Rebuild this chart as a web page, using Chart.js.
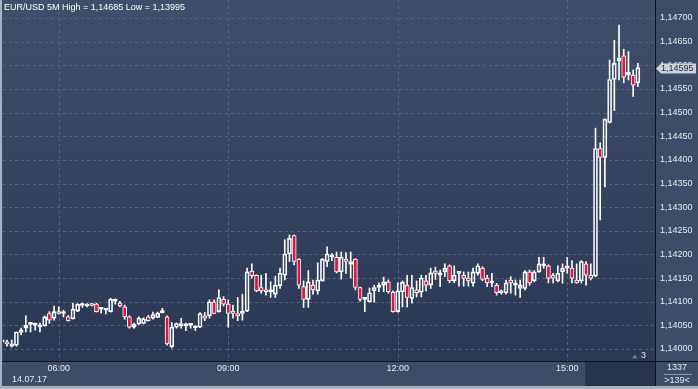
<!DOCTYPE html>
<html>
<head>
<meta charset="utf-8">
<title>EUR/USD 5M</title>
<script src="https://cdn.jsdelivr.net/npm/chart.js@4.4.1/dist/chart.umd.min.js"></script>
<style>
  html, body { margin: 0; padding: 0; background: #3d4c69; }
  canvas { display: block; }
</style>
</head>
<body>
<canvas id="candleChart" width="698" height="389"></canvas>
<script>
// --- EUR/USD 5 minute bars, 14.07.17 (05:00 .. 16:15) ---
const opens = [
    1.14015, 1.14015, 1.14006, 1.14008, 1.14035, 1.14044, 1.14052, 1.14050, 1.14047, 1.14049,
    1.14075, 1.14065, 1.14078, 1.14075, 1.14068, 1.14064, 1.14080, 1.14092, 1.14091, 1.14095,
    1.14095, 1.14084, 1.14082, 1.14079, 1.14101, 1.14097, 1.14089, 1.14068, 1.14046, 1.14053,
    1.14054, 1.14068, 1.14065, 1.14067, 1.14077, 1.14068, 1.14005, 1.14046, 1.14049, 1.14049,
    1.14050, 1.14045, 1.14046, 1.14070, 1.14070, 1.14100, 1.14079, 1.14105, 1.14095, 1.14080,
    1.14075, 1.14075, 1.14080, 1.14165, 1.14156, 1.14130, 1.14125, 1.14121, 1.14116, 1.14134,
    1.14156, 1.14201, 1.14240, 1.14190, 1.14132, 1.14105, 1.14135, 1.14123, 1.14144, 1.14185,
    1.14195, 1.14194, 1.14163, 1.14190, 1.14179, 1.14190, 1.14130, 1.14105, 1.14100, 1.14123,
    1.14130, 1.14135, 1.14142, 1.14120, 1.14079, 1.14121, 1.14135, 1.14107, 1.14125, 1.14120,
    1.14144, 1.14135, 1.14165, 1.14156, 1.14163, 1.14176, 1.14144, 1.14160, 1.14156, 1.14150,
    1.14139, 1.14160, 1.14171, 1.14150, 1.14140, 1.14135, 1.14119, 1.14119, 1.14146, 1.14135,
    1.14128, 1.14128, 1.14163, 1.14144, 1.14163, 1.14176, 1.14176, 1.14156, 1.14144, 1.14163,
    1.14171, 1.14171, 1.14146, 1.14144, 1.14180, 1.14156, 1.14154, 1.14424, 1.14405, 1.14479,
    1.14570, 1.14610, 1.14620, 1.14579, 1.14579, 1.14563
];
const highs = [
    1.14017, 1.14019, 1.14019, 1.14036, 1.14044, 1.14070, 1.14056, 1.14055, 1.14055, 1.14070,
    1.14079, 1.14091, 1.14089, 1.14082, 1.14071, 1.14097, 1.14096, 1.14097, 1.14096, 1.14096,
    1.14097, 1.14087, 1.14085, 1.14107, 1.14106, 1.14101, 1.14093, 1.14070, 1.14055, 1.14068,
    1.14066, 1.14071, 1.14078, 1.14078, 1.14086, 1.14070, 1.14056, 1.14055, 1.14065, 1.14055,
    1.14054, 1.14049, 1.14077, 1.14077, 1.14104, 1.14104, 1.14125, 1.14111, 1.14104, 1.14093,
    1.14109, 1.14116, 1.14171, 1.14180, 1.14157, 1.14156, 1.14160, 1.14142, 1.14154, 1.14171,
    1.14231, 1.14241, 1.14241, 1.14191, 1.14144, 1.14166, 1.14146, 1.14182, 1.14191, 1.14216,
    1.14202, 1.14205, 1.14205, 1.14204, 1.14205, 1.14191, 1.14131, 1.14109, 1.14129, 1.14135,
    1.14140, 1.14152, 1.14146, 1.14123, 1.14140, 1.14144, 1.14156, 1.14156, 1.14144, 1.14156,
    1.14156, 1.14171, 1.14173, 1.14167, 1.14180, 1.14178, 1.14176, 1.14161, 1.14163, 1.14163,
    1.14171, 1.14180, 1.14174, 1.14156, 1.14160, 1.14139, 1.14125, 1.14146, 1.14153, 1.14146,
    1.14146, 1.14166, 1.14167, 1.14166, 1.14194, 1.14194, 1.14178, 1.14160, 1.14176, 1.14180,
    1.14194, 1.14187, 1.14180, 1.14187, 1.14185, 1.14180, 1.14467, 1.14436, 1.14487, 1.14611,
    1.14653, 1.14685, 1.14634, 1.14629, 1.14590, 1.14604
];
const lows = [
    1.14013, 1.14006, 1.14004, 1.14006, 1.14030, 1.14036, 1.14036, 1.14040, 1.14036, 1.14048,
    1.14054, 1.14061, 1.14074, 1.14068, 1.14059, 1.14063, 1.14079, 1.14088, 1.14089, 1.14091,
    1.14078, 1.14076, 1.14074, 1.14078, 1.14095, 1.14089, 1.14063, 1.14044, 1.14044, 1.14051,
    1.14053, 1.14059, 1.14063, 1.14066, 1.14076, 1.14008, 1.14002, 1.14044, 1.14044, 1.14039,
    1.14044, 1.14039, 1.14045, 1.14060, 1.14065, 1.14074, 1.14078, 1.14091, 1.14046, 1.14065,
    1.14060, 1.14061, 1.14079, 1.14150, 1.14121, 1.14118, 1.14114, 1.14109, 1.14109, 1.14128,
    1.14146, 1.14185, 1.14178, 1.14128, 1.14088, 1.14088, 1.14116, 1.14116, 1.14143, 1.14174,
    1.14187, 1.14161, 1.14148, 1.14160, 1.14150, 1.14125, 1.14101, 1.14079, 1.14099, 1.14099,
    1.14121, 1.14121, 1.14118, 1.14078, 1.14078, 1.14089, 1.14089, 1.14097, 1.14110, 1.14110,
    1.14123, 1.14128, 1.14147, 1.14132, 1.14153, 1.14140, 1.14140, 1.14133, 1.14133, 1.14133,
    1.14133, 1.14156, 1.14144, 1.14132, 1.14132, 1.14114, 1.14116, 1.14116, 1.14118, 1.14114,
    1.14109, 1.14125, 1.14135, 1.14142, 1.14162, 1.14171, 1.14140, 1.14140, 1.14142, 1.14139,
    1.14160, 1.14140, 1.14139, 1.14139, 1.14135, 1.14146, 1.14153, 1.14273, 1.14343, 1.14478,
    1.14504, 1.14569, 1.14563, 1.14569, 1.14534, 1.14555
];
const closes = [
    1.14015, 1.14011, 1.14011, 1.14036, 1.14040, 1.14050, 1.14053, 1.14051, 1.14048, 1.14068,
    1.14061, 1.14079, 1.14075, 1.14076, 1.14060, 1.14084, 1.14095, 1.14093, 1.14095, 1.14092,
    1.14079, 1.14085, 1.14083, 1.14105, 1.14102, 1.14091, 1.14068, 1.14046, 1.14052, 1.14065,
    1.14064, 1.14060, 1.14073, 1.14076, 1.14078, 1.14011, 1.14046, 1.14054, 1.14054, 1.14050,
    1.14051, 1.14046, 1.14075, 1.14065, 1.14100, 1.14075, 1.14109, 1.14095, 1.14075, 1.14075,
    1.14070, 1.14080, 1.14163, 1.14155, 1.14123, 1.14123, 1.14121, 1.14122, 1.14135, 1.14160,
    1.14201, 1.14234, 1.14185, 1.14135, 1.14105, 1.14142, 1.14125, 1.14146, 1.14190, 1.14201,
    1.14196, 1.14163, 1.14194, 1.14185, 1.14185, 1.14130, 1.14105, 1.14106, 1.14119, 1.14130,
    1.14135, 1.14142, 1.14121, 1.14079, 1.14123, 1.14141, 1.14109, 1.14130, 1.14119, 1.14150,
    1.14135, 1.14161, 1.14160, 1.14161, 1.14171, 1.14144, 1.14156, 1.14160, 1.14150, 1.14144,
    1.14163, 1.14176, 1.14147, 1.14140, 1.14141, 1.14119, 1.14123, 1.14140, 1.14140, 1.14136,
    1.14135, 1.14163, 1.14140, 1.14163, 1.14180, 1.14177, 1.14150, 1.14150, 1.14160, 1.14171,
    1.14176, 1.14150, 1.14140, 1.14185, 1.14156, 1.14150, 1.14424, 1.14405, 1.14486, 1.14570,
    1.14604, 1.14615, 1.14575, 1.14585, 1.14558, 1.14595
];

// axis ticks
const priceTicks = [
    1.14000, 1.14050, 1.14100, 1.14150, 1.14200, 1.14250, 1.14300, 1.14350,
    1.14400, 1.14450, 1.14500, 1.14550, 1.14600, 1.14650, 1.14700
];
const timeTickBars = [12, 48, 84, 120];
const timeTickLabels = ['06:00', '09:00', '12:00', '15:00'];

const symbolName = 'EUR/USD 5M';
const dayHigh = 1.14685;
const dayLow = 1.13995;
const dateText = '14.07.17';
const cornerTop = '1337';
const cornerBottom = '>139<';
const markerCount = '3';

// --- look ---
const FONT = '"Liberation Sans", Arial, sans-serif';
const RED = '#e0143c';
const GRID = '#55637e';
const PANEL = '#3d4c69';

const fmt = v => v.toFixed(5).replace('.', ',');

const bodies = opens.map((o, i) => ({ x: i, y: [o, closes[i]] }));
const upperWicks = opens.map((o, i) => ({ x: i, y: [Math.max(o, closes[i]), highs[i]] }));
const lowerWicks = opens.map((o, i) => ({ x: i, y: [lows[i], Math.min(o, closes[i])] }));

const framePlugin = {
    id: 'frame',
    beforeDraw(chart) {
        const { ctx, chartArea: a } = chart;
        ctx.save();
        ctx.fillStyle = PANEL;
        ctx.fillRect(0, 0, chart.width, chart.height);
        const g = ctx.createLinearGradient(0, a.top, 0, a.bottom);
        g.addColorStop(0, '#3f4e6b');
        g.addColorStop(1, '#2b3855');
        ctx.fillStyle = g;
        ctx.fillRect(a.left, a.top, a.right - a.left, a.bottom - a.top);
        // dark box under the right end of the time axis
        ctx.fillStyle = '#28344f';
        ctx.fillRect(585, a.bottom, a.right - 585, 25);
        ctx.restore();
    },
    beforeDatasetsDraw(chart) {
        // dashed grid at the tick positions
        const { ctx, chartArea: a, scales } = chart;
        ctx.save();
        ctx.strokeStyle = GRID;
        ctx.lineWidth = 1;
        ctx.setLineDash([3, 3]);
        ctx.beginPath();
        priceTicks.forEach(v => {
            const y = Math.round(scales.y.getPixelForValue(v)) + 0.5;
            ctx.moveTo(a.left, y);
            ctx.lineTo(a.right, y);
        });
        timeTickBars.forEach(v => {
            const x = Math.round(scales.x.getPixelForValue(v)) + 0.5;
            ctx.moveTo(x, a.top);
            ctx.lineTo(x, a.bottom);
        });
        ctx.stroke();
        ctx.restore();
    },
    afterDraw(chart) {
        const { ctx, chartArea: a } = chart;
        const yScale = chart.scales.y;
        ctx.save();
        // separators
        ctx.fillStyle = '#0e131e';
        ctx.fillRect(a.right, 0, 1, chart.height);
        ctx.fillRect(0, a.bottom, chart.width, 1);
        // light outer frame
        ctx.fillStyle = '#a6b1c3';
        ctx.fillRect(0, 0, 2, chart.height);
        ctx.fillRect(0, chart.height - 3, chart.width, 3);

        ctx.font = '9px ' + FONT;
        ctx.textBaseline = 'top';
        ctx.fillStyle = '#ffffff';
        ctx.textAlign = 'left';
        ctx.fillText(symbolName + ' High = ' + fmt(dayHigh) + ' Low = ' + fmt(dayLow), 4, 3);

        ctx.fillStyle = '#e4e9f1';
        ctx.textBaseline = 'middle';
        ctx.fillText(dateText, 12, 380);

        // bar counter box
        ctx.textAlign = 'center';
        ctx.fillText(cornerTop, 677, 368);
        ctx.fillText(cornerBottom, 677, 381);
        ctx.fillStyle = '#8d98ad';
        ctx.fillRect(664, 374, 28, 1);

        // marker in the lower right corner of the plot
        ctx.fillStyle = '#6f7b93';
        ctx.beginPath();
        ctx.moveTo(632, 358.5);
        ctx.lineTo(637.5, 358.5);
        ctx.lineTo(634.75, 354.5);
        ctx.closePath();
        ctx.fill();
        ctx.fillStyle = '#e4e9f1';
        ctx.textAlign = 'left';
        ctx.fillText(markerCount, 641, 355.5);

        // last price tag
        const last = closes[closes.length - 1];
        const py = Math.round(yScale.getPixelForValue(last)) + 0.5;
        ctx.fillStyle = '#cdd2db';
        ctx.beginPath();
        ctx.moveTo(656, py);
        ctx.lineTo(661, py - 5);
        ctx.lineTo(696, py - 5);
        ctx.lineTo(696, py + 5);
        ctx.lineTo(661, py + 5);
        ctx.closePath();
        ctx.fill();
        ctx.fillStyle = '#1b2844';
        ctx.fillText(fmt(last), 661, py);
        ctx.restore();
    }
};

new Chart(document.getElementById('candleChart'), {
    type: 'bar',
    data: {
        datasets: [{
            label: 'Body',
            data: bodies,
            order: 0,
            grouped: false,
            barThickness: 4,
            minBarLength: 2,
            borderWidth: 1,
            borderSkipped: false,
            borderColor: '#ffffff',
            backgroundColor: c => closes[c.dataIndex] < opens[c.dataIndex] ? RED : 'rgba(0,0,0,0)',
            clip: 0
        }, {
            label: 'Upper wick',
            data: upperWicks,
            order: 1,
            grouped: false,
            barThickness: 1,
            borderWidth: 0,
            backgroundColor: '#ffffff',
            clip: 0
        }, {
            label: 'Lower wick',
            data: lowerWicks,
            order: 1,
            grouped: false,
            barThickness: 1,
            borderWidth: 0,
            backgroundColor: '#ffffff',
            clip: 0
        }]
    },
    options: {
        responsive: false,
        animation: false,
        devicePixelRatio: 1,
        layout: { padding: { left: 3, top: 0, right: 0, bottom: 0 } },
        plugins: {
            legend: { display: false },
            tooltip: { enabled: false },
            title: { display: false }
        },
        scales: {
            x: {
                type: 'linear',
                offset: false,
                min: 0.15,
                max: 138.64,
                bounds: 'data',
                grid: { display: false, offset: false, drawTicks: false },
                border: { display: false },
                ticks: {
                    autoSkip: false,
                    maxRotation: 0,
                    padding: 2,
                    color: '#e4e9f1',
                    font: { family: FONT, size: 9 },
                    callback: (v, i) => timeTickLabels[i]
                },
                afterBuildTicks: s => { s.ticks = timeTickBars.map(v => ({ value: v })); },
                afterFit: s => { s.height = 28; s.paddingLeft = 0; s.paddingRight = 0; }
            },
            y: {
                type: 'linear',
                position: 'right',
                min: 1.1397462,
                max: 1.1473807,
                bounds: 'data',
                grid: { display: false, drawTicks: false },
                border: { display: false },
                ticks: {
                    padding: 5,
                    color: '#e4e9f1',
                    font: { family: FONT, size: 9 },
                    callback: v => fmt(v)
                },
                afterBuildTicks: s => { s.ticks = priceTicks.map(v => ({ value: v })); },
                afterFit: s => { s.width = 43; s.paddingTop = 0; s.paddingBottom = 0; }
            }
        }
    },
    plugins: [framePlugin]
});
</script>
</body>
</html>
